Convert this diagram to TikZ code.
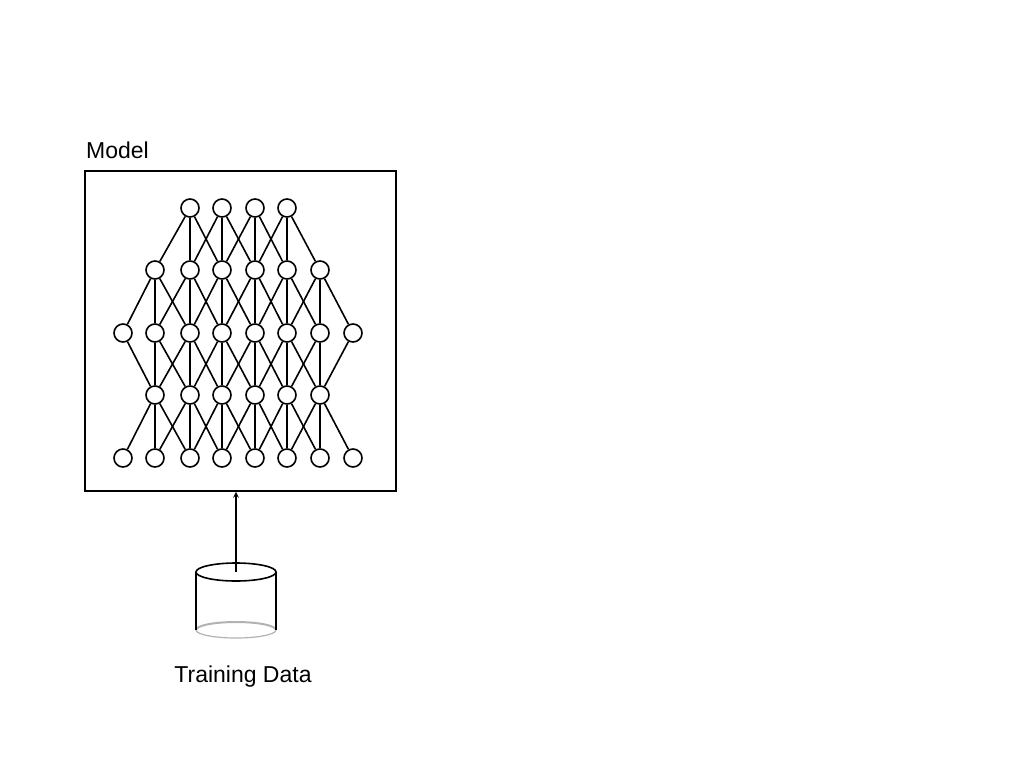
\documentclass[tikz,border=0pt]{standalone}
\usepackage{fontspec}
\setmainfont{Liberation Sans}
\begin{document}
\begin{tikzpicture}[x=1pt,y=-1pt,
  nn/.style={circle,draw,line width=1.6pt,fill=white,minimum size=18pt,inner sep=0pt},
  ed/.style={line width=1.6pt}]
\useasboundingbox (0,0) rectangle (1024,768);
\node[draw,line width=1.6pt,minimum width=311pt,minimum height=320pt,inner sep=0pt] (box) at (240.5,331) {};
\node[anchor=base west,font=\fontsize{23}{26}\selectfont,inner sep=0pt] (mt) at (86,158) {Model};
\def\xs{{123,155,190,222,255,287,320,353}}
\foreach \c in {2,...,5} {\pgfmathsetmacro\xx{\xs[\c]}\node[nn] (a\c) at (\xx,208) {};}
\foreach \c in {1,...,6} {\pgfmathsetmacro\xx{\xs[\c]}\node[nn] (b\c) at (\xx,270) {};}
\foreach \c in {0,...,7} {\pgfmathsetmacro\xx{\xs[\c]}\node[nn] (c\c) at (\xx,333) {};}
\foreach \c in {1,...,6} {\pgfmathsetmacro\xx{\xs[\c]}\node[nn] (d\c) at (\xx,395) {};}
\foreach \c in {0,...,7} {\pgfmathsetmacro\xx{\xs[\c]}\node[nn] (e\c) at (\xx,458) {};}
\begin{scope}[on background layer/.style={}]
\foreach \c in {2,...,5} \foreach \k in {-1,0,1} {\pgfmathtruncatemacro\t{\c+\k}\draw[ed] (a\c) -- (b\t);}
\foreach \c in {1,...,6} \foreach \k in {-1,0,1} {\pgfmathtruncatemacro\t{\c+\k}\draw[ed] (b\c) -- (c\t);}
\foreach \c in {1,...,6} \foreach \k in {-1,0,1} {\pgfmathtruncatemacro\t{\c+\k}\draw[ed] (d\c) -- (c\t);}
\foreach \c in {1,...,6} \foreach \k in {-1,0,1} {\pgfmathtruncatemacro\t{\c+\k}\draw[ed] (d\c) -- (e\t);}
\end{scope}
% cylinder
\draw[line width=2pt,gray!60] (196,630) arc[start angle=180,end angle=360,x radius=40,y radius=8];
\draw[line width=1.2pt,gray!60] (196,630) arc[start angle=180,end angle=0,x radius=40,y radius=8];
\draw[line width=1.6pt] (196,572) -- (196,630) (276,572) -- (276,630);
\draw[line width=1.6pt] (236,572) ellipse[x radius=40,y radius=9];
\coordinate (db) at (236,572);
\node[font=\fontsize{23}{26}\selectfont,inner sep=0pt,anchor=base] (td) at (243,682) {Training Data};
\draw[line width=1.6pt,-stealth] (db) -- (box.south -| db);
\end{tikzpicture}
\end{document}
